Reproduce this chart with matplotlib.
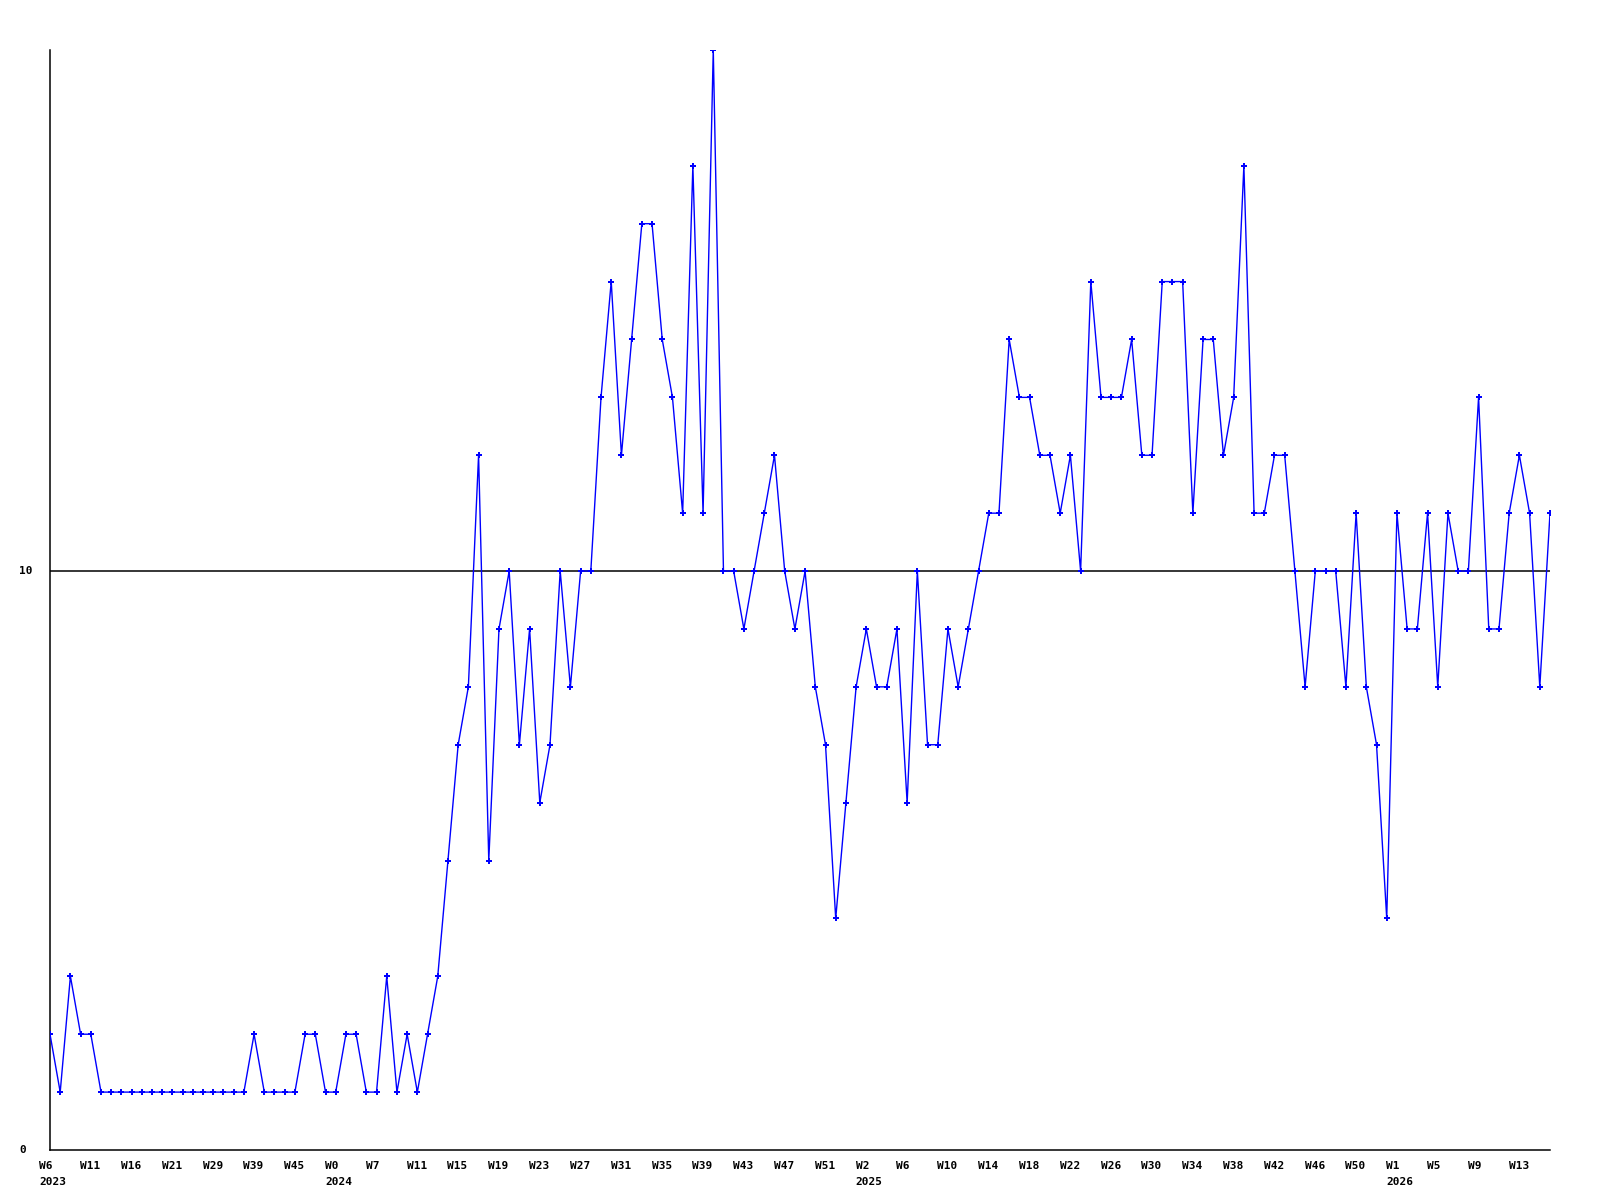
import matplotlib
matplotlib.use("Agg")
import matplotlib.pyplot as plt
import matplotlib.transforms as mtransforms

# ---- data ----
values = [2, 1, 3, 2, 2] + [1] * 15 + [2, 1, 1, 1, 1, 2, 2, 1, 1, 2, 2, 1, 1, 3, 1, 2, 1, 2, 3,
          5, 7, 8, 12, 5, 9, 10, 7, 9, 6, 7, 10, 8, 10, 10, 13, 15, 12, 14, 16, 16, 14, 13, 11, 17,
          11, 19, 10, 10, 9, 10, 11, 12, 10, 9, 10, 8, 7, 4, 6, 8, 9, 8, 8, 9, 6, 10, 7, 7, 9, 8, 9,
          10, 11, 11, 14, 13, 13, 12, 12, 11, 12, 10, 15, 13, 13, 13, 14, 12, 12, 15, 15, 15, 11, 14,
          14, 12, 13, 17, 11, 11, 12, 12, 10, 8, 10, 10, 10, 8, 11, 8, 7, 4, 11, 9, 9, 11, 8, 11, 10,
          10, 13, 9, 9, 11, 12, 11, 8, 11]

week_labels = ["W6", "W11", "W16", "W21", "W29", "W39", "W45", "W0", "W7", "W11", "W15", "W19",
               "W23", "W27", "W31", "W35", "W39", "W43", "W47", "W51", "W2", "W6", "W10", "W14",
               "W18", "W22", "W26", "W30", "W34", "W38", "W42", "W46", "W50", "W1", "W5", "W9", "W13"]
year_labels = {0: "2023", 7: "2024", 20: "2025", 33: "2026"}  # keyed by week-label index
ref_value = 10
y_ticks = [0, 10]
label_step = 4

# ---- figure ----
fig = plt.figure(figsize=(16, 12), dpi=100)
ax = fig.add_axes([50 / 1600, 50 / 1200, 1500 / 1600, 1100 / 1200])

x = list(range(len(values)))
ax.plot(x, values, color="#0000FF", lw=1.0, marker="P", markersize=4.3,
        markeredgewidth=0, zorder=3)
ax.axhline(ref_value, color="black", lw=1.1, zorder=2)

ax.set_xlim(0, len(values) - 1)
ax.set_ylim(0, 19)
for s in ("top", "right"):
    ax.spines[s].set_visible(False)
for s in ("left", "bottom"):
    ax.spines[s].set_color("black")
    ax.spines[s].set_linewidth(1.1)
ax.set_xticks([])
ax.set_yticks([])

font = dict(family="DejaVu Sans Mono", weight="bold", size=8, color="black")

# week labels and years
tr_x = mtransforms.blended_transform_factory(ax.transData, fig.transFigure)
for k, lab in enumerate(week_labels):
    xi = k * label_step - 1.05
    ax.text(xi, 1 - 1161 / 1200, lab, transform=tr_x, ha="left", va="top", **font)
    if k in year_labels:
        ax.text(xi, 1 - 1177 / 1200, year_labels[k], transform=tr_x, ha="left", va="top", **font)

# y labels
tr_y = mtransforms.blended_transform_factory(fig.transFigure, ax.transData)
for yv in y_ticks:
    ax.text(19.5 / 1600, yv, str(yv), transform=tr_y, ha="left", va="center", **font)

fig.savefig("out.png", dpi=100)
